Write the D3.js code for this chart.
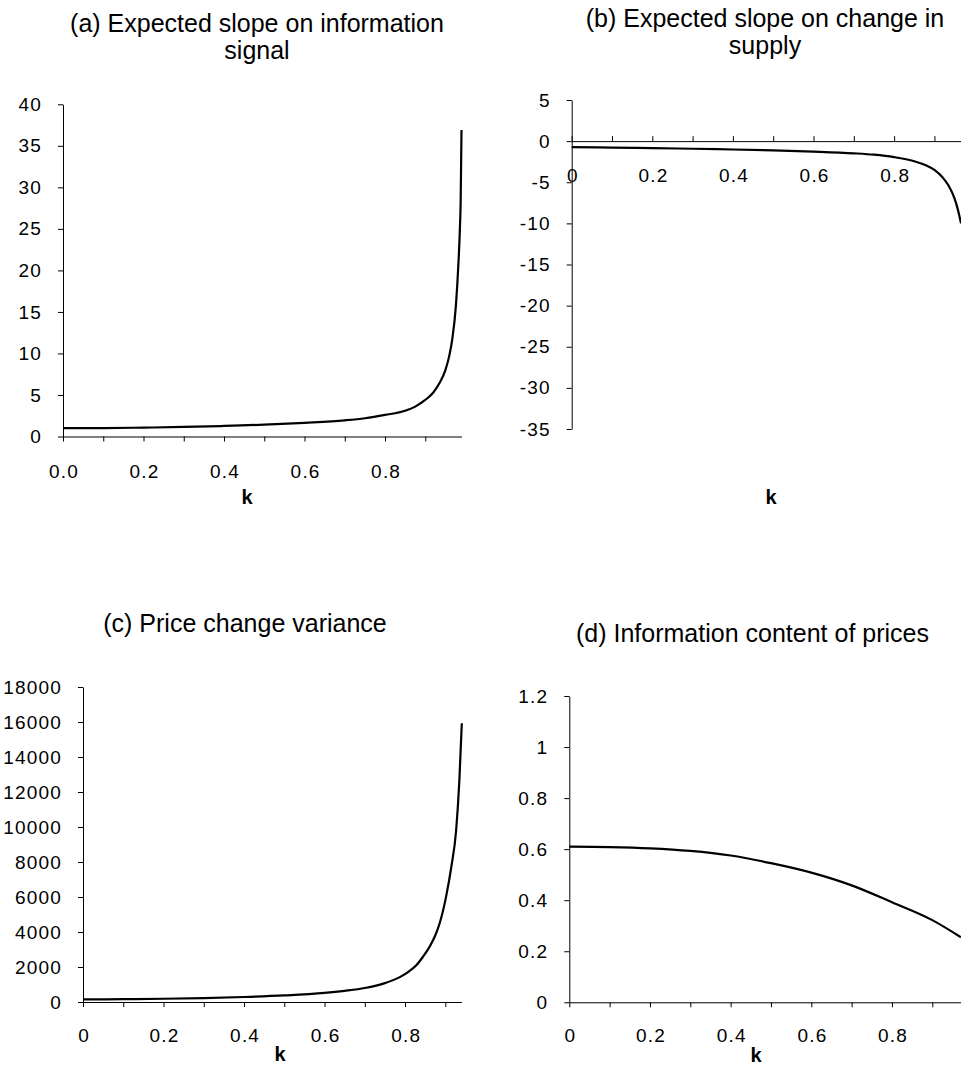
<!DOCTYPE html>
<html>
<head>
<meta charset="utf-8">
<script src="https://cdn.jsdelivr.net/npm/d3@7"></script>
<style>
  body { margin: 0; background: #fff; }
  text { font-family: "Liberation Sans", Arial, sans-serif; fill: #000; }
</style>
</head>
<body>
<svg id="chart"></svg>
<script>
// values, k on the x axis
const kA = [0, 0.1, 0.2, 0.3, 0.4, 0.5, 0.6, 0.7, 0.75, 0.8, 0.85, 0.875, 0.9, 0.92, 0.935, 0.95, 0.96, 0.967, 0.976, 0.982, 0.986, 0.988, 0.99];
const slopeSignal = [1.0, 1.02, 1.07, 1.15, 1.27, 1.42, 1.65, 1.95, 2.2, 2.6, 3.1, 3.6, 4.4, 5.3, 6.4, 8.0, 9.8, 11.7, 15.7, 20.5, 25, 28.5, 36.9];

const kB = [0, 0.1, 0.2, 0.3, 0.4, 0.5, 0.6, 0.7, 0.75, 0.8, 0.85, 0.88, 0.9, 0.92, 0.935, 0.95, 0.958, 0.966];
const slopeSupply = [-0.73, -0.78, -0.85, -0.93, -1.02, -1.12, -1.27, -1.48, -1.65, -1.95, -2.45, -2.95, -3.5, -4.4, -5.4, -7.0, -8.3, -10];

const kC = [0, 0.1, 0.2, 0.3, 0.4, 0.5, 0.6, 0.65, 0.7, 0.75, 0.787, 0.81, 0.828, 0.845, 0.861, 0.875, 0.886, 0.902, 0.915, 0.927, 0.935, 0.941];
const priceVar = [150, 160, 185, 225, 285, 375, 520, 640, 800, 1080, 1420, 1750, 2100, 2600, 3160, 3800, 4500, 6020, 7730, 9830, 12690, 15925];

const kD = [0, 0.1, 0.2, 0.3, 0.4, 0.5, 0.6, 0.7, 0.8, 0.9, 0.971];
const infoContent = [0.61, 0.608, 0.603, 0.593, 0.575, 0.545, 0.508, 0.458, 0.392, 0.322, 0.255];

const xTicks = [0, 0.1, 0.2, 0.3, 0.4, 0.5, 0.6, 0.7, 0.8, 0.9];
const yTicksA = [0, 5, 10, 15, 20, 25, 30, 35, 40];
const yTicksB = [-35, -30, -25, -20, -15, -10, -5, 0, 5];
const yTicksC = [0, 2000, 4000, 6000, 8000, 10000, 12000, 14000, 16000, 18000];
const yTicksD = [0, 0.2, 0.4, 0.6, 0.8, 1, 1.2];

// plain hyphen for negatives, like the original
const plain = d => String(+d.toFixed(2));

const svg = d3.select("#chart")
    .attr("width", 961)
    .attr("height", 1074);

function drawPanel(p) {
    const g = svg.append("g");

    const x = d3.scaleLinear().domain(p.xDomain).range(p.xRange);
    const y = d3.scaleLinear().domain(p.yDomain).range(p.yRange);

    // title, one or two lines
    p.title.forEach((t, i) => {
        g.append("text")
            .attr("x", p.titleX)
            .attr("y", p.titleY + i * 27)
            .attr("text-anchor", "middle")
            .style("font-size", "25px")
            .text(t);
    });

    // y axis
    const yAxis = g.append("g")
        .attr("transform", `translate(${p.xRange[0]},0)`)
        .call(d3.axisLeft(y).tickValues(p.yTicks).tickFormat(plain)
            .tickSize(5).tickPadding(16).tickSizeOuter(0));

    // x axis, sits at y = 0
    const labelEvery = d => Math.round(d * 10) % 2 === 0;
    const xAxis = g.append("g")
        .attr("transform", `translate(0,${y(0)})`)
        .call(d3.axisBottom(x).tickValues(xTicks.filter(d => d <= p.xDomain[1]))
            .tickFormat(d => labelEvery(d) ? p.xFormat(d) : "")
            .tickSize(p.tickUp ? -5 : 5).tickSizeOuter(0));

    xAxis.selectAll(".tick text")
        .attr("x", 0.6)
        .attr("y", p.xLabelOffset)
        .attr("dy", "0.35em");

    [xAxis, yAxis].forEach(a => {
        a.attr("font-family", null).attr("font-size", null);
        a.selectAll("text")
            .style("font-size", "19px")
            .style("letter-spacing", "1.2px");
        a.selectAll("path, line").attr("stroke", "#000").attr("stroke-width", 1);
    });

    g.append("text")
        .attr("x", p.kX)
        .attr("y", p.kY)
        .attr("text-anchor", "middle")
        .style("font-size", "20px")
        .style("font-weight", "bold")
        .text("k");

    const line = d3.line()
        .x(d => x(d[0]))
        .y(d => y(d[1]))
        .curve(d3.curveMonotoneX);

    g.append("path")
        .datum(d3.zip(p.k, p.v))
        .attr("fill", "none")
        .attr("stroke", "#000")
        .attr("stroke-width", 2.2)
        .attr("d", line);
}

drawPanel({
    title: ["(a) Expected slope on information", "signal"],
    titleX: 257, titleY: 32,
    k: kA, v: slopeSignal,
    xDomain: [0, 0.99], xRange: [63, 461.5],
    yDomain: [0, 40], yRange: [436.5, 104.3],
    yTicks: yTicksA,
    xFormat: d3.format(".1f"), xLabelOffset: 35,
    kX: 247, kY: 504
});

drawPanel({
    title: ["(b) Expected slope on change in", "supply"],
    titleX: 765, titleY: 27,
    k: kB, v: slopeSupply,
    xDomain: [0, 0.99], xRange: [571.7, 970.7],
    yDomain: [-35, 5], yRange: [429, 100],
    yTicks: yTicksB,
    xFormat: plain, xLabelOffset: 34.5, tickUp: true,
    kX: 771, kY: 504
});

drawPanel({
    title: ["(c) Price change variance"],
    titleX: 245, titleY: 632,
    k: kC, v: priceVar,
    xDomain: [0, 0.94], xRange: [83, 461.4],
    yDomain: [0, 18000], yRange: [1002, 687],
    yTicks: yTicksC,
    xFormat: plain, xLabelOffset: 33.5,
    kX: 280, kY: 1061
});

drawPanel({
    title: ["(d) Information content of prices"],
    titleX: 752.5, titleY: 642,
    k: kD, v: infoContent,
    xDomain: [0, 0.99], xRange: [569.3, 968.6],
    yDomain: [0, 1.2], yRange: [1002.3, 696],
    yTicks: yTicksD,
    xFormat: plain, xLabelOffset: 33.5,
    kX: 756, kY: 1062
});
</script>
</body>
</html>
